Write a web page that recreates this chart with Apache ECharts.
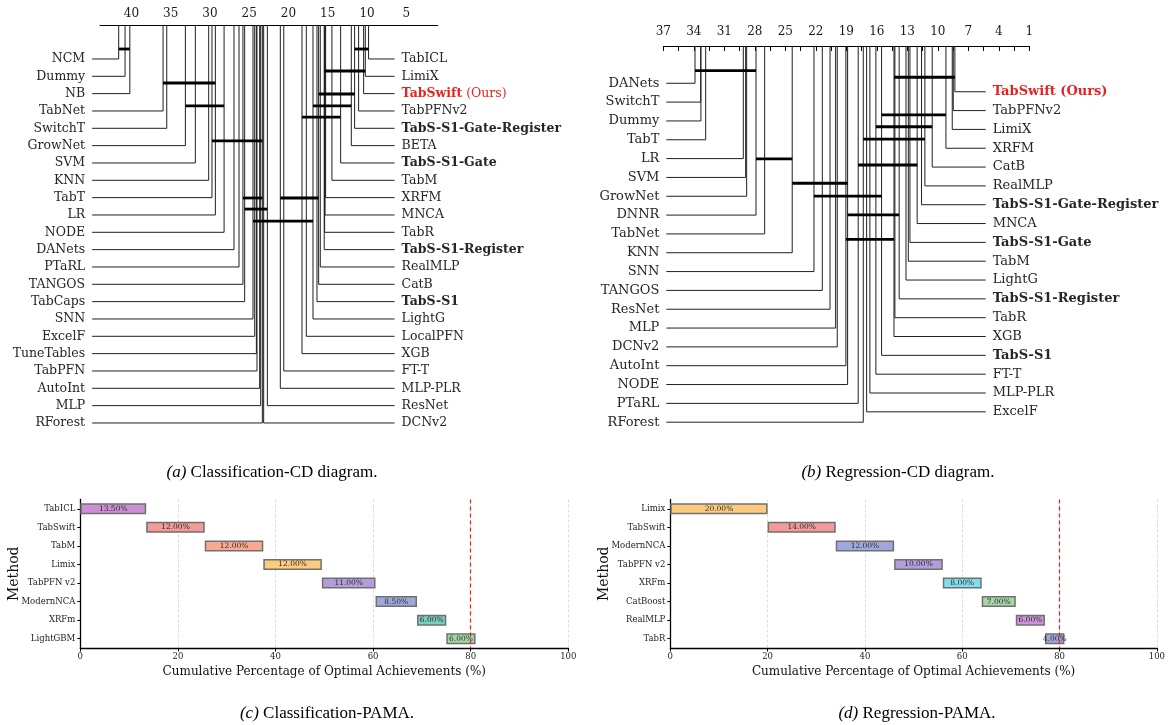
<!DOCTYPE html>
<html>
<head>
<meta charset="utf-8">
<title>CD diagrams and PAMA</title>
<script src="https://cdn.jsdelivr.net/npm/echarts@6.0.0/dist/echarts.min.js"></script>
<style>
  html, body { margin: 0; padding: 0; background: #fff; }
  #chart { width: 1168px; height: 725px; }
</style>
</head>
<body>
<div id="chart"></div>
<script>
// ---- (a) classification CD diagram: average ranks ----
var clsLeftMethods = ['NCM', 'Dummy', 'NB', 'TabNet', 'SwitchT', 'GrowNet', 'SVM', 'KNN', 'TabT', 'LR', 'NODE',
  'DANets', 'PTaRL', 'TANGOS', 'TabCaps', 'SNN', 'ExcelF', 'TuneTables', 'TabPFN', 'AutoInt', 'MLP', 'RForest'];
var clsLeftRanks = [41.62, 40.81, 40.20, 35.97, 35.50, 33.13, 31.86, 30.16, 29.74, 29.31, 28.20,
  26.94, 26.30, 25.80, 25.58, 24.52, 24.30, 24.09, 24.01, 23.67, 23.54, 23.33];
var clsRightMethods = ['TabICL', 'LimiX', 'TabSwift', 'TabPFNv2', 'TabS-S1-Gate-Register', 'BETA', 'TabS-S1-Gate',
  'TabM', 'XRFM', 'MNCA', 'TabR', 'TabS-S1-Register', 'RealMLP', 'CatB', 'TabS-S1', 'LightG', 'LocalPFN', 'XGB',
  'FT-T', 'MLP-PLR', 'ResNet', 'DCNv2'];
var clsRightRanks = [9.80, 10.22, 10.43, 11.07, 11.58, 12.00, 13.36, 14.47, 15.27, 15.35, 15.40, 15.45, 15.95,
  16.16, 16.37, 16.88, 17.73, 18.28, 20.60, 21.04, 22.69, 23.16];
var clsCliques = [[41.62, 40.20], [11.58, 9.80], [15.40, 10.22], [35.97, 29.31], [16.16, 11.58], [33.13, 28.20],
  [16.88, 12.00], [18.28, 13.36], [29.74, 23.33], [25.80, 23.33], [21.04, 16.16], [25.58, 22.69], [24.52, 16.88]];
var clsTickLabels = [40, 35, 30, 25, 20, 15, 10, 5];

// ---- (b) regression CD diagram: average ranks ----
var regLeftMethods = ['DANets', 'SwitchT', 'Dummy', 'TabT', 'LR', 'SVM', 'GrowNet', 'DNNR', 'TabNet', 'KNN', 'SNN',
  'TANGOS', 'ResNet', 'MLP', 'DCNv2', 'AutoInt', 'NODE', 'PTaRL', 'RForest'];
var regLeftRanks = [33.88, 33.32, 33.30, 32.83, 29.13, 28.90, 28.80, 27.88, 27.03, 24.32, 22.18,
  21.36, 20.60, 20.05, 19.89, 19.04, 18.87, 17.83, 17.33];
var regRightMethods = ['TabSwift', 'TabPFNv2', 'LimiX', 'XRFM', 'CatB', 'RealMLP', 'TabS-S1-Gate-Register', 'MNCA',
  'TabS-S1-Gate', 'TabM', 'LightG', 'TabS-S1-Register', 'TabR', 'XGB', 'TabS-S1', 'FT-T', 'MLP-PLR', 'ExcelF'];
var regRightRanks = [8.32, 8.48, 8.58, 9.20, 10.55, 11.27, 11.60, 12.03, 12.74, 12.90, 13.13, 13.80, 14.22, 14.31,
  15.53, 16.09, 16.68, 17.00];
var regCliques = [[33.88, 27.88], [14.31, 8.32], [15.53, 9.20], [16.09, 10.55], [17.33, 11.27], [27.88, 24.32],
  [17.83, 12.03], [24.32, 18.87], [22.18, 15.53], [18.87, 13.80], [19.04, 14.31]];
var regTickLabels = [37, 34, 31, 28, 25, 22, 19, 16, 13, 10, 7, 4, 1];

// ---- (c)/(d) PAMA: share of optimal achievements (%) ----
var pamaClsMethods = ['TabICL', 'TabSwift', 'TabM', 'Limix', 'TabPFN v2', 'ModernNCA', 'XRFm', 'LightGBM'];
var pamaClsShares = [13.5, 12, 12, 12, 11, 8.5, 6, 6];
var pamaRegMethods = ['Limix', 'TabSwift', 'ModernNCA', 'TabPFN v2', 'XRFm', 'CatBoost', 'RealMLP', 'TabR'];
var pamaRegShares = [20, 14, 12, 10, 8, 7, 6, 4];
var pamaTarget = 80;

// ---- styles / layout ----
var SERIF = '"DejaVu Serif", serif';
var CAPTION = '"Liberation Serif", "Times New Roman", serif';
var RED = '#e8231f';
var boldNames = ['TabS-S1-Gate-Register', 'TabS-S1-Gate', 'TabS-S1-Register', 'TabS-S1'];
var pamaClsColors = ['#cc8fd6', '#f39a9a', '#f8a98f', '#fccb7e', '#b39ddb', '#9fa8da', '#7ecdc4', '#a5d6a7'];
var pamaRegColors = ['#fccb7e', '#f39a9a', '#9fa8da', '#b39ddb', '#80deea', '#a5d6a7', '#ce93d8', '#9fa8da'];

// y of the CD panels is counted in label rows below the rank axis
var clsLayout = { leftRow0: 1.96, rightRow0: 1.96, leftEnd: 45, rightEnd: 6.49, fontSize: 12.5,
  cliqueRows: [1.385, 1.385, 2.654, 3.347, 3.98, 4.67, 4.67, 5.31, 6.69, 9.98, 9.98, 10.62, 11.31] };
var regLayout = { leftRow0: 1.98, rightRow0: 2.43, leftEnd: 36.7, rightEnd: 5.29, fontSize: 13,
  cliqueRows: [1.31, 1.66, 3.66, 4.29, 4.95, 6.0, 6.32, 7.29, 7.97, 8.97, 10.27] };

function labelStyle(name, fontSize, oursStyle) {
  var s = { text: name, fontFamily: SERIF, fontSize: fontSize, fill: '#262626', fontWeight: 'normal' };
  if (boldNames.indexOf(name) >= 0) s.fontWeight = 'bold';
  if (name === 'TabSwift') {
    s.fill = RED;
    if (oursStyle === 'split') {
      s.text = '{b|TabSwift} (Ours)';
      s.rich = { b: { fontWeight: 'bold', fontFamily: SERIF, fontSize: fontSize, fill: RED } };
    } else {
      s.text = 'TabSwift (Ours)';
      s.fontWeight = 'bold';
    }
  }
  return s;
}

function cdSeries(idx, names, ranks, row0, endRank, side, layout, oursStyle) {
  return {
    type: 'custom',
    xAxisIndex: idx,
    yAxisIndex: idx,
    data: ranks.map(function (r, i) { return [r, row0 + i, endRank]; }),
    renderItem: function (params, api) {
      var p0 = api.coord([api.value(0), 0]);
      var p1 = api.coord([api.value(0), api.value(1)]);
      var p2 = api.coord([api.value(2), api.value(1)]);
      var st = labelStyle(names[params.dataIndex], layout.fontSize, oursStyle);
      st.align = side === 'left' ? 'right' : 'left';
      st.verticalAlign = 'middle';
      return {
        type: 'group',
        children: [
          { type: 'polyline', shape: { points: [p0, p1, p2] },
            style: { stroke: '#1f1f1f', lineWidth: 1, fill: 'none' } },
          { type: 'text', x: side === 'left' ? p2[0] - 7 : p2[0] + 7, y: p2[1], style: st }
        ]
      };
    }
  };
}

function cliqueSeries(idx, cliques, rows) {
  return {
    type: 'custom',
    xAxisIndex: idx,
    yAxisIndex: idx,
    z: 3,
    data: cliques.map(function (c, i) { return [c[0], c[1], rows[i]]; }),
    renderItem: function (params, api) {
      var a = api.coord([api.value(0), api.value(2)]);
      var b = api.coord([api.value(1), api.value(2)]);
      return { type: 'line', shape: { x1: a[0], y1: a[1], x2: b[0], y2: b[1] },
        style: { stroke: '#000', lineWidth: 2.8 } };
    }
  };
}

function starts(shares) {
  var acc = 0;
  return shares.map(function (v) { var s = acc; acc += v; return s; });
}

function pamaSeries(idx, shares, colors) {
  return [
    { type: 'bar', xAxisIndex: idx, yAxisIndex: idx, stack: 'p' + idx, barWidth: 11, silent: true,
      itemStyle: { color: 'transparent' }, data: starts(shares) },
    { type: 'bar', xAxisIndex: idx, yAxisIndex: idx, stack: 'p' + idx, barWidth: 11,
      data: shares.map(function (v, i) { return { value: v, itemStyle: { color: colors[i] } }; }),
      itemStyle: { borderColor: '#707070', borderWidth: 1.5 },
      label: { show: true, position: 'inside', fontFamily: SERIF, fontSize: 7.5, color: '#2b2b2b',
        formatter: function (p) { return p.value.toFixed(2) + '%'; } },
      markLine: { silent: true, symbol: 'none', label: { show: false },
        lineStyle: { color: RED, type: [4, 3], width: 1.2 }, data: [{ xAxis: pamaTarget }] } }
  ];
}

function pamaX(idx) {
  return {
    gridIndex: idx, type: 'value', min: 0, max: 100, interval: 20,
    axisLine: { show: true, lineStyle: { color: '#000', width: 1.3 } },
    axisTick: { show: true, length: 3.5, lineStyle: { color: '#000' } },
    axisLabel: { fontFamily: SERIF, fontSize: 8.5, color: '#222', margin: 4 },
    splitLine: { show: true, lineStyle: { color: '#d4d4d4', type: [3, 2], width: 0.8 } },
    name: 'Cumulative Percentage of Optimal Achievements (%)', nameLocation: 'middle', nameGap: 18,
    nameTextStyle: { fontFamily: SERIF, fontSize: 12, color: '#111' }
  };
}

function pamaY(idx, methods) {
  return {
    gridIndex: idx, type: 'category', inverse: true, data: methods,
    axisLine: { show: true, lineStyle: { color: '#000', width: 1.3 } },
    axisTick: { show: true, alignWithLabel: true, length: 3, lineStyle: { color: '#000' } },
    axisLabel: { fontFamily: SERIF, fontSize: 8.5, color: '#222', margin: 5 },
    name: 'Method', nameLocation: 'middle', nameRotate: 90, nameGap: 59, nameMoveOverlap: false,
    nameTextStyle: { fontFamily: SERIF, fontSize: 14, color: '#111' }
  };
}

function caption(tag, text, x, y) {
  return {
    text: '{i|' + tag + '} ' + text, left: x, top: y, textAlign: 'center',
    textStyle: { fontFamily: CAPTION, fontSize: 17, fontWeight: 'normal', color: '#000',
      rich: { i: { fontFamily: CAPTION, fontSize: 17, fontStyle: 'italic', color: '#000' } } }
  };
}

var regTickMarks = [];
for (var t = 1; t <= 37; t += 1.5) regTickMarks.push(t);

var chart = echarts.init(document.getElementById('chart'), null, { renderer: 'canvas' });

chart.setOption({
  backgroundColor: '#fff',
  animation: false,
  title: [
    caption('(a)', 'Classification-CD diagram.', 267, 459),
    caption('(b)', 'Regression-CD diagram.', 893, 459),
    caption('(c)', 'Classification-PAMA.', 322, 700),
    caption('(d)', 'Regression-PAMA.', 912, 700)
  ],
  grid: [
    { left: 100, top: 25, width: 337.7, height: 416 },
    { left: 663.3, top: 46, width: 366, height: 395.4 },
    { left: 80.3, top: 499.5, width: 488, height: 148.5 },
    { left: 670.3, top: 499.5, width: 489, height: 148.5 }
  ],
  xAxis: [
    { gridIndex: 0, type: 'value', position: 'top', inverse: true, min: 1, max: 44,
      axisLine: { show: true, lineStyle: { color: '#000', width: 1 } },
      axisTick: { show: false }, splitLine: { show: false },
      axisLabel: { customValues: clsTickLabels, fontFamily: SERIF, fontSize: 12, color: '#1a1a1a', margin: 5 } },
    { gridIndex: 1, type: 'value', position: 'top', inverse: true, min: 1, max: 37,
      axisLine: { show: true, lineStyle: { color: '#000', width: 1 } },
      axisTick: { show: true, inside: true, length: 5, customValues: regTickMarks, lineStyle: { color: '#000' } },
      splitLine: { show: false },
      axisLabel: { customValues: regTickLabels, fontFamily: SERIF, fontSize: 12, color: '#1a1a1a', margin: 8 } },
    pamaX(2),
    pamaX(3)
  ],
  yAxis: [
    { gridIndex: 0, type: 'value', inverse: true, min: 0, max: 24, show: false },
    { gridIndex: 1, type: 'value', inverse: true, min: 0, max: 21, show: false },
    pamaY(2, pamaClsMethods),
    pamaY(3, pamaRegMethods)
  ],
  series: [
    cdSeries(0, clsLeftMethods, clsLeftRanks, clsLayout.leftRow0, clsLayout.leftEnd, 'left', clsLayout, 'split'),
    cdSeries(0, clsRightMethods, clsRightRanks, clsLayout.rightRow0, clsLayout.rightEnd, 'right', clsLayout, 'split'),
    cliqueSeries(0, clsCliques, clsLayout.cliqueRows),
    cdSeries(1, regLeftMethods, regLeftRanks, regLayout.leftRow0, regLayout.leftEnd, 'left', regLayout, 'bold'),
    cdSeries(1, regRightMethods, regRightRanks, regLayout.rightRow0, regLayout.rightEnd, 'right', regLayout, 'bold'),
    cliqueSeries(1, regCliques, regLayout.cliqueRows)
  ].concat(pamaSeries(2, pamaClsShares, pamaClsColors), pamaSeries(3, pamaRegShares, pamaRegColors))
});
</script>
</body>
</html>
